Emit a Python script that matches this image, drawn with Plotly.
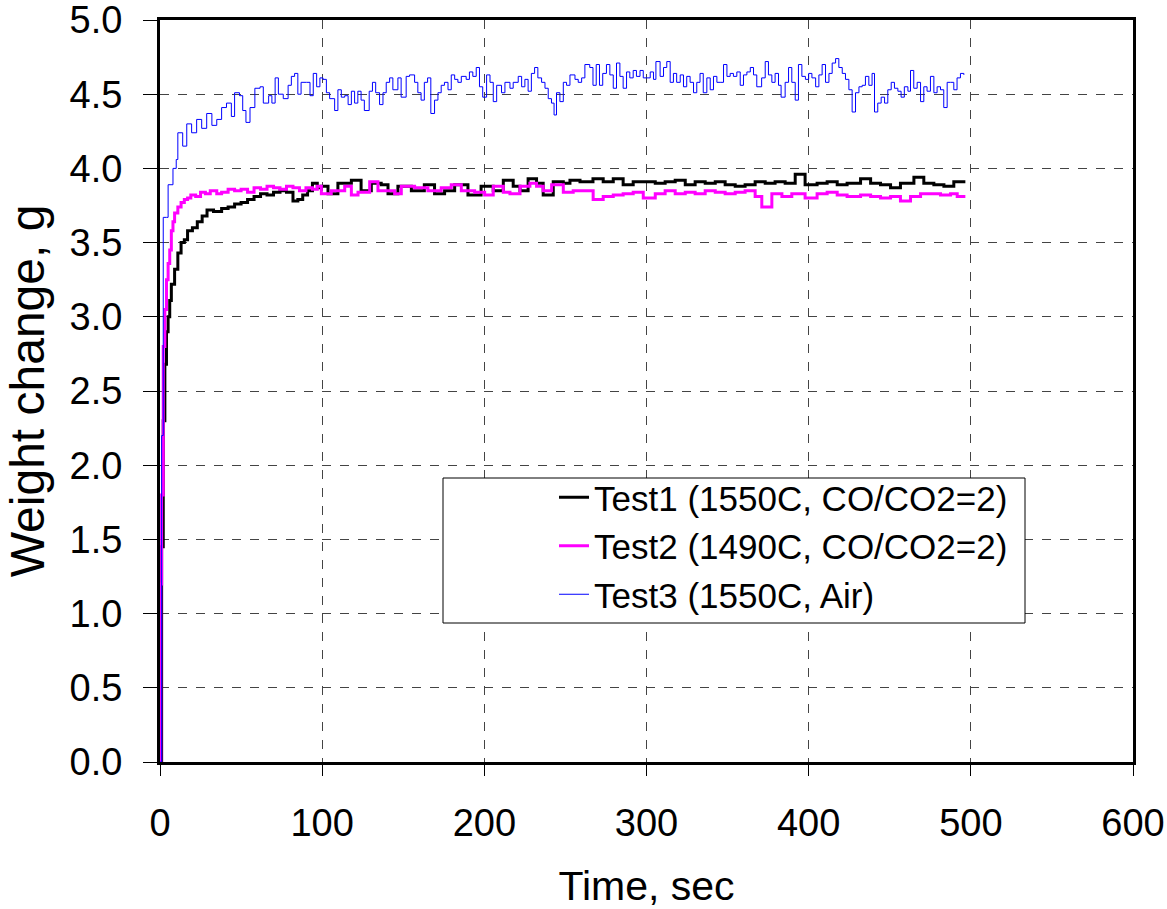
import plotly.graph_objects as go

# ---------------- data ----------------
t1_time = [0, 1, 2, 3, 4, 5, 6, 7, 9, 11, 13, 15, 17, 20, 23, 26, 29, 33, 38, 42, 46, 50, 54, 58, 62, 66, 70, 74, 78, 82, 85, 88, 91, 94, 97,
           99.5, 103.6, 109.7, 118, 124, 130.3, 136.4, 140.6, 146.7, 155, 163, 169.3, 175.5, 181.7, 189.9, 198,
           205.5, 211.7, 217.8, 222, 227, 232.2, 236.3, 242.5, 248.7, 252.8, 259, 267, 273.3, 279.5, 285.6, 291.8, 298,
           305.4, 311.5, 317.7, 323.9, 330, 336.2, 342.4, 348.5, 354.7, 360.8, 367, 373.2, 379.3, 385.5, 391.7, 397.8,
           405.2, 411.4, 417.6, 423.7, 432, 438.2, 444.3, 450.5, 456.6, 464.9, 471, 477.2, 483.4, 489.5, 495.7]
t1_weight = [0, 1.45, 2.3, 2.68, 2.9, 3.0, 3.11, 3.22, 3.32, 3.43, 3.50, 3.52, 3.58, 3.60, 3.64, 3.68, 3.72, 3.71, 3.73, 3.74,
             3.76, 3.77, 3.79, 3.81, 3.83, 3.82, 3.84, 3.85, 3.84, 3.78, 3.79, 3.82, 3.85, 3.90, 3.87,
             3.88, 3.83, 3.90, 3.92, 3.85, 3.90, 3.89, 3.83, 3.88, 3.85, 3.89, 3.83, 3.85, 3.89, 3.82, 3.88,
             3.85, 3.92, 3.88, 3.85, 3.93, 3.90, 3.82, 3.91, 3.90, 3.92, 3.91, 3.93, 3.91, 3.93, 3.89, 3.91, 3.91,
             3.90, 3.91, 3.92, 3.89, 3.91, 3.90, 3.91, 3.89, 3.88, 3.89, 3.91, 3.90, 3.91, 3.90, 3.96, 3.89,
             3.90, 3.91, 3.89, 3.90, 3.93, 3.90, 3.89, 3.87, 3.90, 3.94, 3.90, 3.89, 3.88, 3.91, 3.90]

t2_time = [0, 0.5, 1, 2, 3, 4, 5, 6, 7, 8, 9, 11, 13, 15, 17, 19, 22, 25, 28, 31, 35, 38, 42, 46, 50, 54, 58, 62, 66, 70, 74, 78, 82, 86, 90, 94, 97,
           99.5, 105.6, 113.9, 118, 122.1, 129.3, 134.4, 144.7, 148.8, 157, 165.2, 173.4, 179.6, 185.8, 194, 200.2,
           205.5, 211.7, 215.8, 222, 228.1, 232.2, 236.3, 241.5, 248.7, 254.8, 261, 267.1, 273.3, 279.5, 285.6, 291.8, 298,
           305.4, 311.5, 317.7, 323.9, 330, 336.2, 342.4, 348.5, 354.7, 360.8, 367, 371.1, 377.3, 383.5, 389.6, 397.8,
           405.2, 411.4, 417.6, 423.7, 432, 438.2, 444.3, 450.5, 456.6, 462.8, 469, 475.1, 481.3, 487.5, 491.6, 495.7]
t2_weight = [0, 1.2, 1.8, 2.8, 3.05, 3.25, 3.36, 3.45, 3.58, 3.64, 3.70, 3.74, 3.77, 3.79, 3.80, 3.82, 3.81, 3.84, 3.83, 3.85,
             3.83, 3.84, 3.86, 3.85, 3.86, 3.84, 3.87, 3.86, 3.88, 3.87, 3.86, 3.88, 3.87, 3.85, 3.87, 3.86, 3.88,
             3.83, 3.85, 3.88, 3.82, 3.84, 3.91, 3.85, 3.83, 3.88, 3.87, 3.85, 3.87, 3.89, 3.85, 3.84, 3.82,
             3.88, 3.84, 3.83, 3.88, 3.90, 3.88, 3.85, 3.89, 3.84, 3.85, 3.85, 3.79, 3.81, 3.82, 3.83, 3.84, 3.80,
             3.83, 3.85, 3.83, 3.84, 3.83, 3.85, 3.84, 3.83, 3.84, 3.85, 3.81, 3.74, 3.83, 3.81, 3.83, 3.80,
             3.83, 3.84, 3.82, 3.81, 3.82, 3.81, 3.80, 3.81, 3.78, 3.81, 3.83, 3.83, 3.82, 3.83, 3.81, 3.82]

t3_time = [0, 1, 2, 4, 5, 8, 10, 11, 14, 16.5, 19.5, 22.6, 25.7, 28.8, 32, 35, 38, 41, 44, 46, 49, 51, 53, 55.5, 58.5, 61.7, 63.7,
           67, 69, 71, 73, 76, 79, 81, 83, 85, 87, 90.4, 92.5, 94.5, 96.6, 98.6, 100.5, 102.6, 104.6, 107.7, 109.7, 111.8,
           113.9, 116, 118, 120, 122, 124, 126, 129, 131, 133, 135.4, 137.5, 139.5, 141.6, 143.6, 146.7, 148.7, 151.8,
           153.9, 157, 159, 161, 163, 165, 167, 169.3, 171.4, 173.4, 175.4, 177.6, 179.6, 181.7, 183.7, 185.8, 188.8,
           190.8, 192.9, 195, 197, 199, 201.4, 203.5, 205.5, 207.6, 210.6, 212.7, 215.8, 217.8, 220.9, 223, 225, 227,
           229, 231, 233, 235.3, 237.4, 239.4, 241.4, 243, 244.5, 246.6, 248.7, 250.7, 252.8, 255.9, 257.9, 260, 262,
           265, 267, 269, 271, 273, 275.3, 277.4, 279.5, 281.5, 283.6, 285.6, 287.7, 289.7, 291.8, 293.8, 296, 298,
           300.2, 302.3, 304.3, 305.8, 308.4, 310.5, 312.5, 314.6, 316.6, 318.6, 320.8, 322.8, 324.8, 326.9, 329, 331,
           333, 335, 337.2, 339.3, 341.3, 343.4, 345.4, 347.5, 349.6, 351.6, 353.6, 355.7, 357.8, 359.8, 361.9, 364,
           366, 368, 371, 373.2, 375.2, 377.3, 379.3, 381.4, 383, 385.5, 387.6, 389.6, 391.7, 393.7, 395.8, 398, 400,
           402, 404.3, 406.3, 408.3, 410.4, 412.5, 414.5, 416.6, 418.6, 420.7, 422.7, 424.8, 426.8, 428.9, 431, 433,
           435, 437.1, 439.1, 440.6, 442.6, 444.7, 446.8, 448.8, 450.9, 452.9, 455, 457, 459, 461.2, 462.8, 464.8,
           466.9, 469, 471, 473, 475.1, 477.2, 479.2, 481.3, 483.3, 485.4, 487.5, 489.5, 491.5, 493.6, 495.7]
t3_weight = [0, 2.2, 3.67, 3.67, 3.89, 4.0, 4.06, 4.24, 4.15, 4.30, 4.24, 4.33, 4.27, 4.37, 4.29, 4.33, 4.41, 4.44, 4.35, 4.51,
             4.49, 4.39, 4.31, 4.41, 4.54, 4.55, 4.44, 4.49, 4.44, 4.61, 4.50, 4.47, 4.56, 4.62, 4.64, 4.50, 4.58, 4.58,
             4.49, 4.64, 4.55, 4.61, 4.60, 4.51, 4.47, 4.39, 4.53, 4.48, 4.49, 4.43, 4.52, 4.44, 4.52, 4.46, 4.39, 4.52,
             4.58, 4.51, 4.43, 4.51, 4.58, 4.61, 4.53, 4.61, 4.48, 4.62, 4.63, 4.58, 4.51, 4.46, 4.58, 4.61, 4.37, 4.46,
             4.51, 4.56, 4.58, 4.53, 4.63, 4.60, 4.58, 4.62, 4.60, 4.65, 4.62, 4.68, 4.55, 4.48, 4.63, 4.58, 4.45, 4.56,
             4.51, 4.58, 4.54, 4.58, 4.62, 4.55, 4.60, 4.52, 4.64, 4.68, 4.61, 4.58, 4.54, 4.47, 4.44, 4.36, 4.51, 4.45,
             4.58, 4.56, 4.63, 4.60, 4.58, 4.61, 4.70, 4.68, 4.56, 4.70, 4.56, 4.64, 4.70, 4.63, 4.54, 4.71, 4.62, 4.54,
             4.65, 4.61, 4.66, 4.62, 4.66, 4.61, 4.61, 4.65, 4.60, 4.72, 4.62, 4.68, 4.72, 4.58, 4.64, 4.58, 4.63, 4.55,
             4.62, 4.58, 4.51, 4.58, 4.64, 4.51, 4.61, 4.53, 4.62, 4.58, 4.58, 4.70, 4.62, 4.64, 4.62, 4.65, 4.56, 4.63,
             4.65, 4.68, 4.63, 4.55, 4.61, 4.72, 4.63, 4.58, 4.64, 4.56, 4.48, 4.58, 4.68, 4.58, 4.46, 4.70, 4.62, 4.60,
             4.64, 4.61, 4.55, 4.63, 4.70, 4.58, 4.64, 4.71, 4.74, 4.68, 4.64, 4.60, 4.53, 4.38, 4.51, 4.55, 4.56, 4.62,
             4.56, 4.64, 4.38, 4.44, 4.48, 4.44, 4.53, 4.58, 4.54, 4.52, 4.48, 4.55, 4.52, 4.66, 4.54, 4.58, 4.45, 4.55,
             4.52, 4.62, 4.51, 4.55, 4.53, 4.41, 4.58, 4.58, 4.53, 4.61, 4.64, 4.63]

series_names = ["Test1 (1550C, CO/CO2=2)", "Test2 (1490C, CO/CO2=2)", "Test3 (1550C, Air)"]
x_ticks = [0, 100, 200, 300, 400, 500, 600]
y_ticks = [0.0, 0.5, 1.0, 1.5, 2.0, 2.5, 3.0, 3.5, 4.0, 4.5, 5.0]

# ---------------- figure ----------------
FONT = "Liberation Sans, Arial, Helvetica, sans-serif"
W, H = 1167, 909
L, T = 160, 20
PW, PH = 973, 742

fig = go.Figure()
fig.add_trace(go.Scatter(x=t1_time, y=t1_weight, name=series_names[0], mode="lines",
                         line=dict(color="#000000", width=3, shape="hv")))
fig.add_trace(go.Scatter(x=t2_time, y=t2_weight, name=series_names[1], mode="lines",
                         line=dict(color="#FF00FF", width=3, shape="hv")))
fig.add_trace(go.Scatter(x=t3_time, y=t3_weight, name=series_names[2], mode="lines",
                         line=dict(color="#0000FF", width=1, shape="hv")))

axis_common = dict(showline=True, linecolor="black", linewidth=3, mirror=True,
                   showgrid=True, gridcolor="#444444", gridwidth=1, griddash="dash",
                   zeroline=False, ticks="outside", tickcolor="black", tickwidth=1,
                   ticklabeloverflow="allow",
                   tickfont=dict(family=FONT, size=38, color="black"))


def px_x(p):
    return (p - 160) / PW


def px_y(p):
    return (762 - p) / PH


fig.update_layout(
    width=W, height=H,
    margin=dict(l=L, r=W - L - PW, t=T, b=H - T - PH, autoexpand=False),
    paper_bgcolor="white", plot_bgcolor="white",
    font=dict(family=FONT, color="black"),
    xaxis=dict(range=[0, 600], tickvals=x_ticks, ticktext=[str(v) for v in x_ticks],
               ticklen=11, ticklabelstandoff=14,
               title=dict(text="Time, sec", font=dict(family=FONT, size=41), standoff=46),
               **axis_common),
    yaxis=dict(range=[0, 5], tickvals=y_ticks, ticktext=[f"{v:.1f}" for v in y_ticks],
               ticklen=14, ticklabelstandoff=13,
               title=dict(text="Weight change, g", font=dict(family=FONT, size=48), standoff=10),
               **axis_common),
    showlegend=True,
    legend=dict(x=px_x(554), y=px_y(468), xanchor="left", yanchor="top",
                bgcolor="rgba(0,0,0,0)", borderwidth=0,
                font=dict(family=FONT, size=35, color="black"), tracegroupgap=0),
    shapes=[dict(type="rect", xref="paper", yref="paper",
                 x0=px_x(443), x1=px_x(1025), y0=px_y(623), y1=px_y(478),
                 line=dict(color="black", width=1), fillcolor="white", layer="above")],
)

fig.write_html("out.html", config={"displayModeBar": False},
               post_script="document.body.style.margin='0';")
